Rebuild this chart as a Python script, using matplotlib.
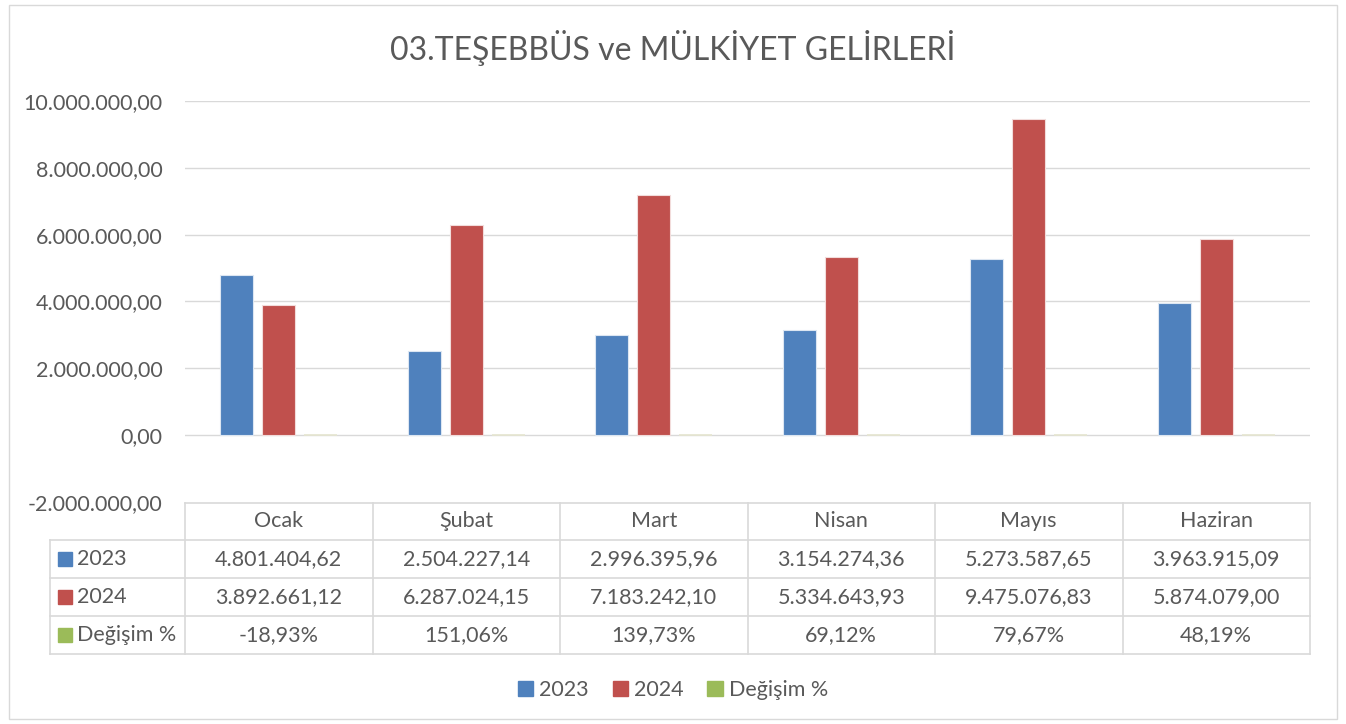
import numpy as np
import matplotlib.pyplot as plt
from matplotlib.lines import Line2D
from matplotlib.patches import Rectangle

months = ['Ocak', 'Şubat', 'Mart', 'Nisan', 'Mayıs', 'Haziran']
y2023 = [4801404.62, 2504227.14, 2996395.96, 3154274.36, 5273587.65, 3963915.09]
y2024 = [3892661.12, 6287024.15, 7183242.10, 5334643.93, 9475076.83, 5874079.00]
degisim = [-18.93, 151.06, 139.73, 69.12, 79.67, 48.19]
series_names = ['2023', '2024', 'Değişim %']
colors = ['#4f81bd', '#c0504d', '#9bbb59']

plt.rcParams['font.family'] = ['Lato', 'DejaVu Sans']
txt = '#595959'
grid = '#d9d9d9'
fs = 15.5

W, H = 1346, 724
fig = plt.figure(figsize=(W / 100, H / 100), dpi=100)

def fx(x):
    return x / W

def fy(y):
    return 1 - y / H

def tr(v):
    # turkish number format
    s = f"{v:,.2f}"
    return s.replace(',', 'X').replace('.', ',').replace('X', '.')

ax = fig.add_axes([fx(185), fy(502), fx(1310) - fx(185), fy(101) - fy(502)])
x = np.arange(len(months))
w = 0.176
step = 0.224
ax.bar(x - step, y2023, w, color=colors[0], edgecolor='#dce6f2', linewidth=0.8, zorder=3)
ax.bar(x, y2024, w, color=colors[1], edgecolor='#f2dcdb', linewidth=0.8, zorder=3)
# percentage values are plotted on the same axis, so they are nearly invisible
ax.bar(x + step, np.array(degisim) / 100, w, color=colors[2], edgecolor='#e6e6d0', linewidth=1.2, zorder=3)

ax.set_xlim(-0.5, len(months) - 0.5)
ax.set_ylim(-2000000, 10000000)
ticks = np.arange(-2000000, 10000001, 2000000)
ax.set_yticks(ticks)
ax.set_yticklabels([tr(t) for t in ticks], fontsize=fs, color=txt)
ax.tick_params(axis='y', length=0, pad=16)
ax.set_xticks([])
for t in ticks[1:]:
    ax.axhline(t, color=grid, linewidth=1, zorder=1)
for s in ax.spines.values():
    s.set_visible(False)

fig.text(0.5, fy(48), '03.TEŞEBBÜS ve MÜLKİYET GELİRLERİ', ha='center', va='center',
         fontsize=23, color=txt)

# data table under the axis
cols = [185 + k * 187.5 for k in range(7)]
rows = [503, 540, 578, 616, 654]
lc = dict(color=grid, linewidth=1.2)
fig.add_artist(Line2D([fx(185), fx(1310)], [fy(503), fy(503)], **lc))
for r in rows[1:]:
    fig.add_artist(Line2D([fx(50), fx(1310)], [fy(r), fy(r)], **lc))
for c in cols:
    fig.add_artist(Line2D([fx(c), fx(c)], [fy(503), fy(654)], **lc))
fig.add_artist(Line2D([fx(50), fx(50)], [fy(540), fy(654)], **lc))

for i, m in enumerate(months):
    cx = (cols[i] + cols[i + 1]) / 2
    fig.text(fx(cx), fy(521), m, ha='center', va='center', fontsize=fs, color=txt)
    vals = [tr(y2023[i]), tr(y2024[i]), tr(degisim[i]) + '%']
    for j, v in enumerate(vals):
        cy = (rows[j + 1] + rows[j + 2]) / 2
        fig.text(fx(cx), fy(cy), v, ha='center', va='center', fontsize=fs, color=txt)

for j, name in enumerate(series_names):
    cy = (rows[j + 1] + rows[j + 2]) / 2
    fig.add_artist(Rectangle((fx(58), fy(cy + 7)), fx(14), fy(0) - fy(14), color=colors[j]))
    fig.text(fx(77), fy(cy), name, ha='left', va='center', fontsize=fs, color=txt)

handles = [Rectangle((0, 0), 1, 1, color=c) for c in colors]
fig.legend(handles, series_names, loc='center', bbox_to_anchor=(0.5, fy(690)), ncol=3,
           frameon=False, fontsize=fs, labelcolor=txt, handlelength=0.7, handleheight=0.7,
           handletextpad=0.3, columnspacing=1.1)

fig.add_artist(Rectangle((fx(9), fy(719)), fx(1328), fy(0) - fy(714), fill=False,
                         edgecolor=grid, linewidth=1))

fig.savefig('out.png', dpi=100)
